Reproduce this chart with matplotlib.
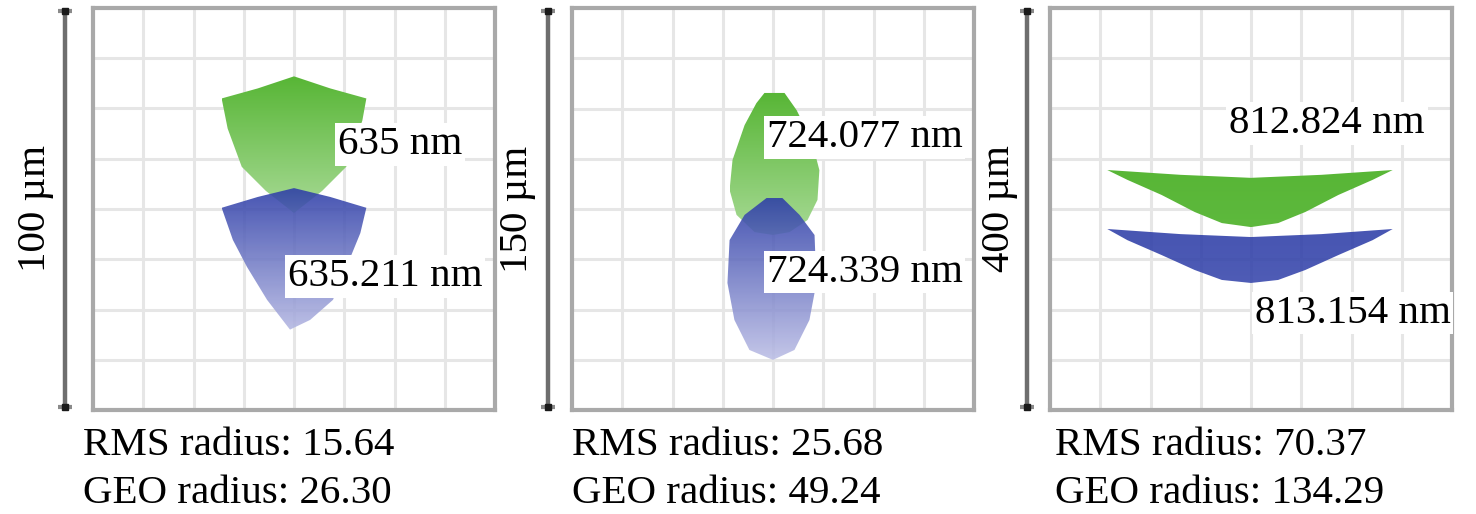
import matplotlib.pyplot as plt
import numpy as np
from matplotlib.colors import LinearSegmentedColormap
from matplotlib.patches import Polygon
import matplotlib.transforms as mtransforms

plt.rcParams["font.family"] = ["Liberation Serif", "DejaVu Serif"]

# field size of each spot diagram (µm) and the reported radii
SCALES = [100, 150, 400]
RMS = ["15.64", "25.68", "70.37"]
GEO = ["26.30", "49.24", "134.29"]
WAVE_GREEN = ["635 nm", "724.077 nm", "812.824 nm"]
WAVE_BLUE = ["635.211 nm", "724.339 nm", "813.154 nm"]

# spot outlines in µm
green1_x = [-18, -9, 0, 9, 18, 17, 13, 7, 0, -7, -13, -16.5]
green1_y = [27.5, 30, 33, 30, 27.5, 22, 10.5, 4.5, -1, 4.5, 10.5, 20]
blue1_x = [-18, -9, 0, 9, 18, 16.5, 9.7, 4, -1, -6.7, -11.7, -15.2]
blue1_y = [0.3, 3, 5.2, 3, 0.3, -6, -22.6, -27.6, -30, -22.6, -14.4, -7.7]

green2_x = [-3.2, 4.3, 8.8, 14.4, 17.3, 16.6, 12.9, 6.2, 0, -6.9, -13.6, -16.2, -15.1, -10.6, -6.2]
green2_y = [43.3, 43.3, 36.9, 25.7, 14.5, 3.4, -4.1, -8.6, -9.7, -8.6, -2.2, 7.1, 18.3, 31.3, 39.5]
blue2_x = [-2.4, 3.5, 9.9, 15.5, 16.2, 13.6, 8, 0, -8.8, -14.4, -17, -16.2, -10.6]
blue2_y = [4.1, 4.1, -2.2, -9.7, -27.6, -41.4, -52.6, -56.3, -52.6, -41.4, -27.6, -11.6, -2.2]

green3_x = [-143, -70, 0, 70, 141, 121, 87, 54, 27, 0, -29, -56, -89, -123]
green3_y = [38.8, 34, 31, 34, 38.8, 29, 14, -3, -14, -18, -14, -3, 14, 29]
blue3_x = [-143, -70, 0, 70, 141, 121, 87, 54, 27, 0, -29, -56, -89, -123]
blue3_y = [-19.9, -25, -27.9, -25, -19.9, -31, -45.8, -60.7, -70.6, -73.6, -70.6, -60.7, -45.8, -31]

SPOTS = [
    ((green1_x, green1_y), (blue1_x, blue1_y)),
    ((green2_x, green2_y), (blue2_x, blue2_y)),
    ((green3_x, green3_y), (blue3_x, blue3_y)),
]

# layout (pixels of the 1476x514 canvas)
W, H = 1476, 514
AX_LEFT = [93, 572, 1050]
AX_TOP, AX_SIZE = 8, 402
BAR_X = [65, 548, 1027]
BAR_LABEL_X = [35, 518, 1000]
TEXT_X = [83, 572, 1055]
# label anchors as fraction of the field (x, y), left edge / vertical centre
GREEN_POS = [(0.11, 0.16), (-0.016, 0.177), (-0.054, 0.212)]
BLUE_POS = [(-0.015, -0.167), (-0.016, -0.157), (0.009, -0.259)]
# gradient: value at bottom of the spot (1 = fully saturated)
GREEN_FADE = [0.35, 0.35, 0.95]
BLUE_FADE = [0.2, 0.15, 0.95]

green_cmap = LinearSegmentedColormap.from_list("g", ["#d2edc8", "#58b636"])
blue_cmap = LinearSegmentedColormap.from_list("b", ["#d4d4f0", "#2e3ea8"])

fig = plt.figure(figsize=(W / 100, H / 100), dpi=100)


def draw_spot(ax, xs, ys, cmap, fade, alpha):
    poly = Polygon(np.column_stack([xs, ys]), closed=True, facecolor="none",
                   edgecolor="none", zorder=3)
    ax.add_patch(poly)
    grad = np.linspace(fade, 1.0, 64).reshape(-1, 1)
    img = ax.imshow(grad, cmap=cmap, vmin=0, vmax=1, origin="lower",
                    extent=(min(xs), max(xs), min(ys), max(ys)),
                    aspect="auto", interpolation="bilinear", alpha=alpha, zorder=3)
    img.set_clip_path(poly)


for i in range(3):
    half = SCALES[i] / 2
    ax = fig.add_axes([AX_LEFT[i] / W, (H - AX_TOP - AX_SIZE) / H,
                       AX_SIZE / W, AX_SIZE / H])
    ax.set_xlim(-half, half)
    ax.set_ylim(-half, half)
    ticks = np.linspace(-half, half, 9)[1:-1]
    ax.set_xticks(ticks)
    ax.set_yticks(ticks)
    ax.tick_params(length=0, labelbottom=False, labelleft=False)
    ax.grid(True, color="#e6e6e6", linewidth=2.2)
    ax.set_axisbelow(True)
    for sp in ax.spines.values():
        sp.set_color("#a9a9a9")
        sp.set_linewidth(3)

    (gx, gy), (bx, by) = SPOTS[i]
    draw_spot(ax, gx, gy, green_cmap, GREEN_FADE[i], 1.0)
    draw_spot(ax, bx, by, blue_cmap, BLUE_FADE[i], 0.88)

    fs = 29.5
    box = dict(facecolor="white", edgecolor="none", pad=2)
    ax.text(GREEN_POS[i][0] * SCALES[i], GREEN_POS[i][1] * SCALES[i], WAVE_GREEN[i],
            fontsize=fs, ha="left", va="center", bbox=box, zorder=6, clip_on=False)
    ax.text(BLUE_POS[i][0] * SCALES[i], BLUE_POS[i][1] * SCALES[i], WAVE_BLUE[i],
            fontsize=fs, ha="left", va="center", bbox=box, zorder=6, clip_on=False)

    # scale bar
    trans = mtransforms.blended_transform_factory(ax.transAxes, ax.transData)
    bx_frac = (BAR_X[i] - AX_LEFT[i]) / AX_SIZE
    y0, y1 = -half * 0.985, half * 0.985
    ax.plot([bx_frac, bx_frac], [y0, y1], color="#6e6e6e", lw=3.2,
            transform=trans, clip_on=False, solid_capstyle="butt")
    ax.plot([bx_frac, bx_frac], [y0, y1], ls="none", marker="_", ms=10, mew=3,
            color="#8a8a8a", transform=trans, clip_on=False)
    ax.plot([bx_frac, bx_frac], [y0, y1], ls="none", marker="s", ms=4,
            color="#1a1a1a", transform=trans, clip_on=False)
    ax.text((BAR_LABEL_X[i] - AX_LEFT[i]) / AX_SIZE, 0.5, f"{SCALES[i]} µm",
            rotation=90, fontsize=fs, ha="center", va="center",
            transform=ax.transAxes)

    tx = (TEXT_X[i] - AX_LEFT[i]) / AX_SIZE
    ax.text(tx, (AX_TOP + AX_SIZE - 455) / AX_SIZE, f"RMS radius: {RMS[i]}",
            fontsize=fs, ha="left", va="baseline", transform=ax.transAxes)
    ax.text(tx, (AX_TOP + AX_SIZE - 503) / AX_SIZE, f"GEO radius: {GEO[i]}",
            fontsize=fs, ha="left", va="baseline", transform=ax.transAxes)

fig.savefig("out.png", dpi=100)
